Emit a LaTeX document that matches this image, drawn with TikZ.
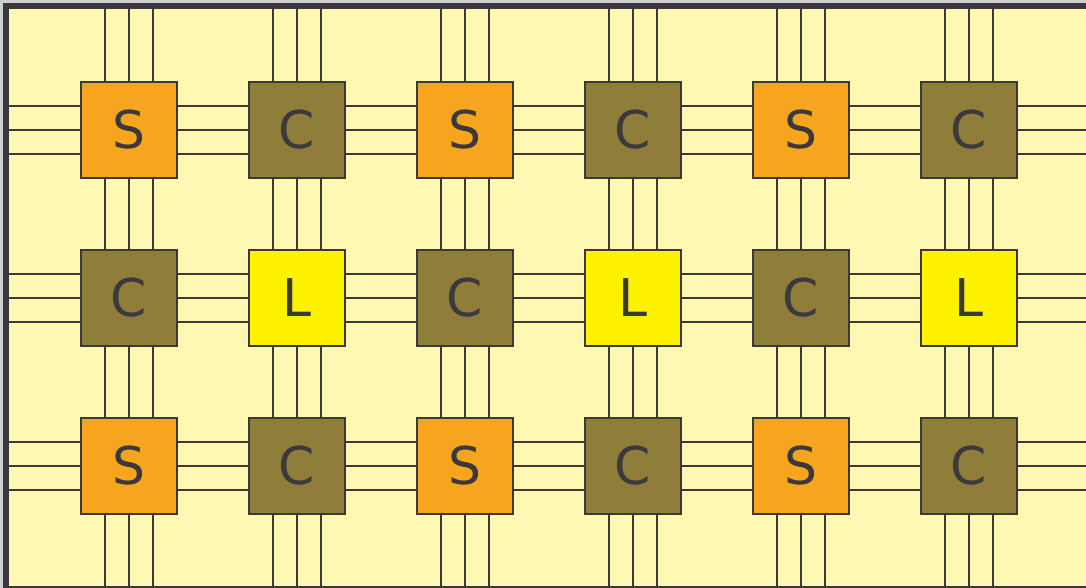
\documentclass[tikz,border=0pt]{standalone}
\usepackage{fontspec}
\setmainfont{DejaVu Sans}
\definecolor{bgyel}{HTML}{FFF8B3}
\definecolor{dark}{HTML}{3A393C}
\definecolor{sorange}{HTML}{F7A51E}
\definecolor{colive}{HTML}{8F7D3A}
\definecolor{lyellow}{HTML}{FFF200}
\definecolor{outer}{HTML}{CFCFCF}
\tikzset{
  cell/.style={draw=dark, line width=2pt, minimum size=96pt, inner sep=0pt,
    text=dark, font=\fontsize{52}{52}\selectfont},
  Scell/.style={cell, fill=sorange},
  Ccell/.style={cell, fill=colive},
  Lcell/.style={cell, fill=lyellow},
  wire/.style={draw=dark, line width=1.6pt}
}
\begin{document}
\begin{tikzpicture}[x=1pt,y=-1pt]
\useasboundingbox (0,0) rectangle (1086,588);
\fill[outer] (0,0) rectangle (1086,588);
\draw[dark, line width=6pt, fill=bgyel] (6,589) -- (6,6) -- (1100,6) -- (1100,589) -- cycle;
% coordinates for wire ends
\foreach \c [count=\i] in {129,297,465,633,801,969}{
  \foreach \o [count=\k] in {-24,0,24}{
    \coordinate (top-\i-\k) at (\c+\o,9);
    \coordinate (bot-\i-\k) at (\c+\o,586);
  }
}
\foreach \r [count=\j] in {130,298,466}{
  \foreach \o [count=\k] in {-24,0,24}{
    \coordinate (left-\j-\k) at (9,\r+\o);
    \coordinate (right-\j-\k) at (1086,\r+\o);
  }
}
% wires
\foreach \i in {1,...,6}{\foreach \k in {1,2,3}{\draw[wire] (top-\i-\k) -- (bot-\i-\k);}}
\foreach \j in {1,2,3}{\foreach \k in {1,2,3}{\draw[wire] (left-\j-\k) -- (right-\j-\k);}}
% cells
\foreach \c [count=\i] in {129,297,465,633,801,969}{
  \pgfmathtruncatemacro{\odd}{mod(\i,2)}
  \ifnum\odd=1
    \node[Scell] (n-1-\i) at (\c,130) {S};
    \node[Ccell] (n-2-\i) at (\c,298) {C};
    \node[Scell] (n-3-\i) at (\c,466) {S};
  \else
    \node[Ccell] (n-1-\i) at (\c,130) {C};
    \node[Lcell] (n-2-\i) at (\c,298) {L};
    \node[Ccell] (n-3-\i) at (\c,466) {C};
  \fi
}
\end{tikzpicture}
\end{document}
